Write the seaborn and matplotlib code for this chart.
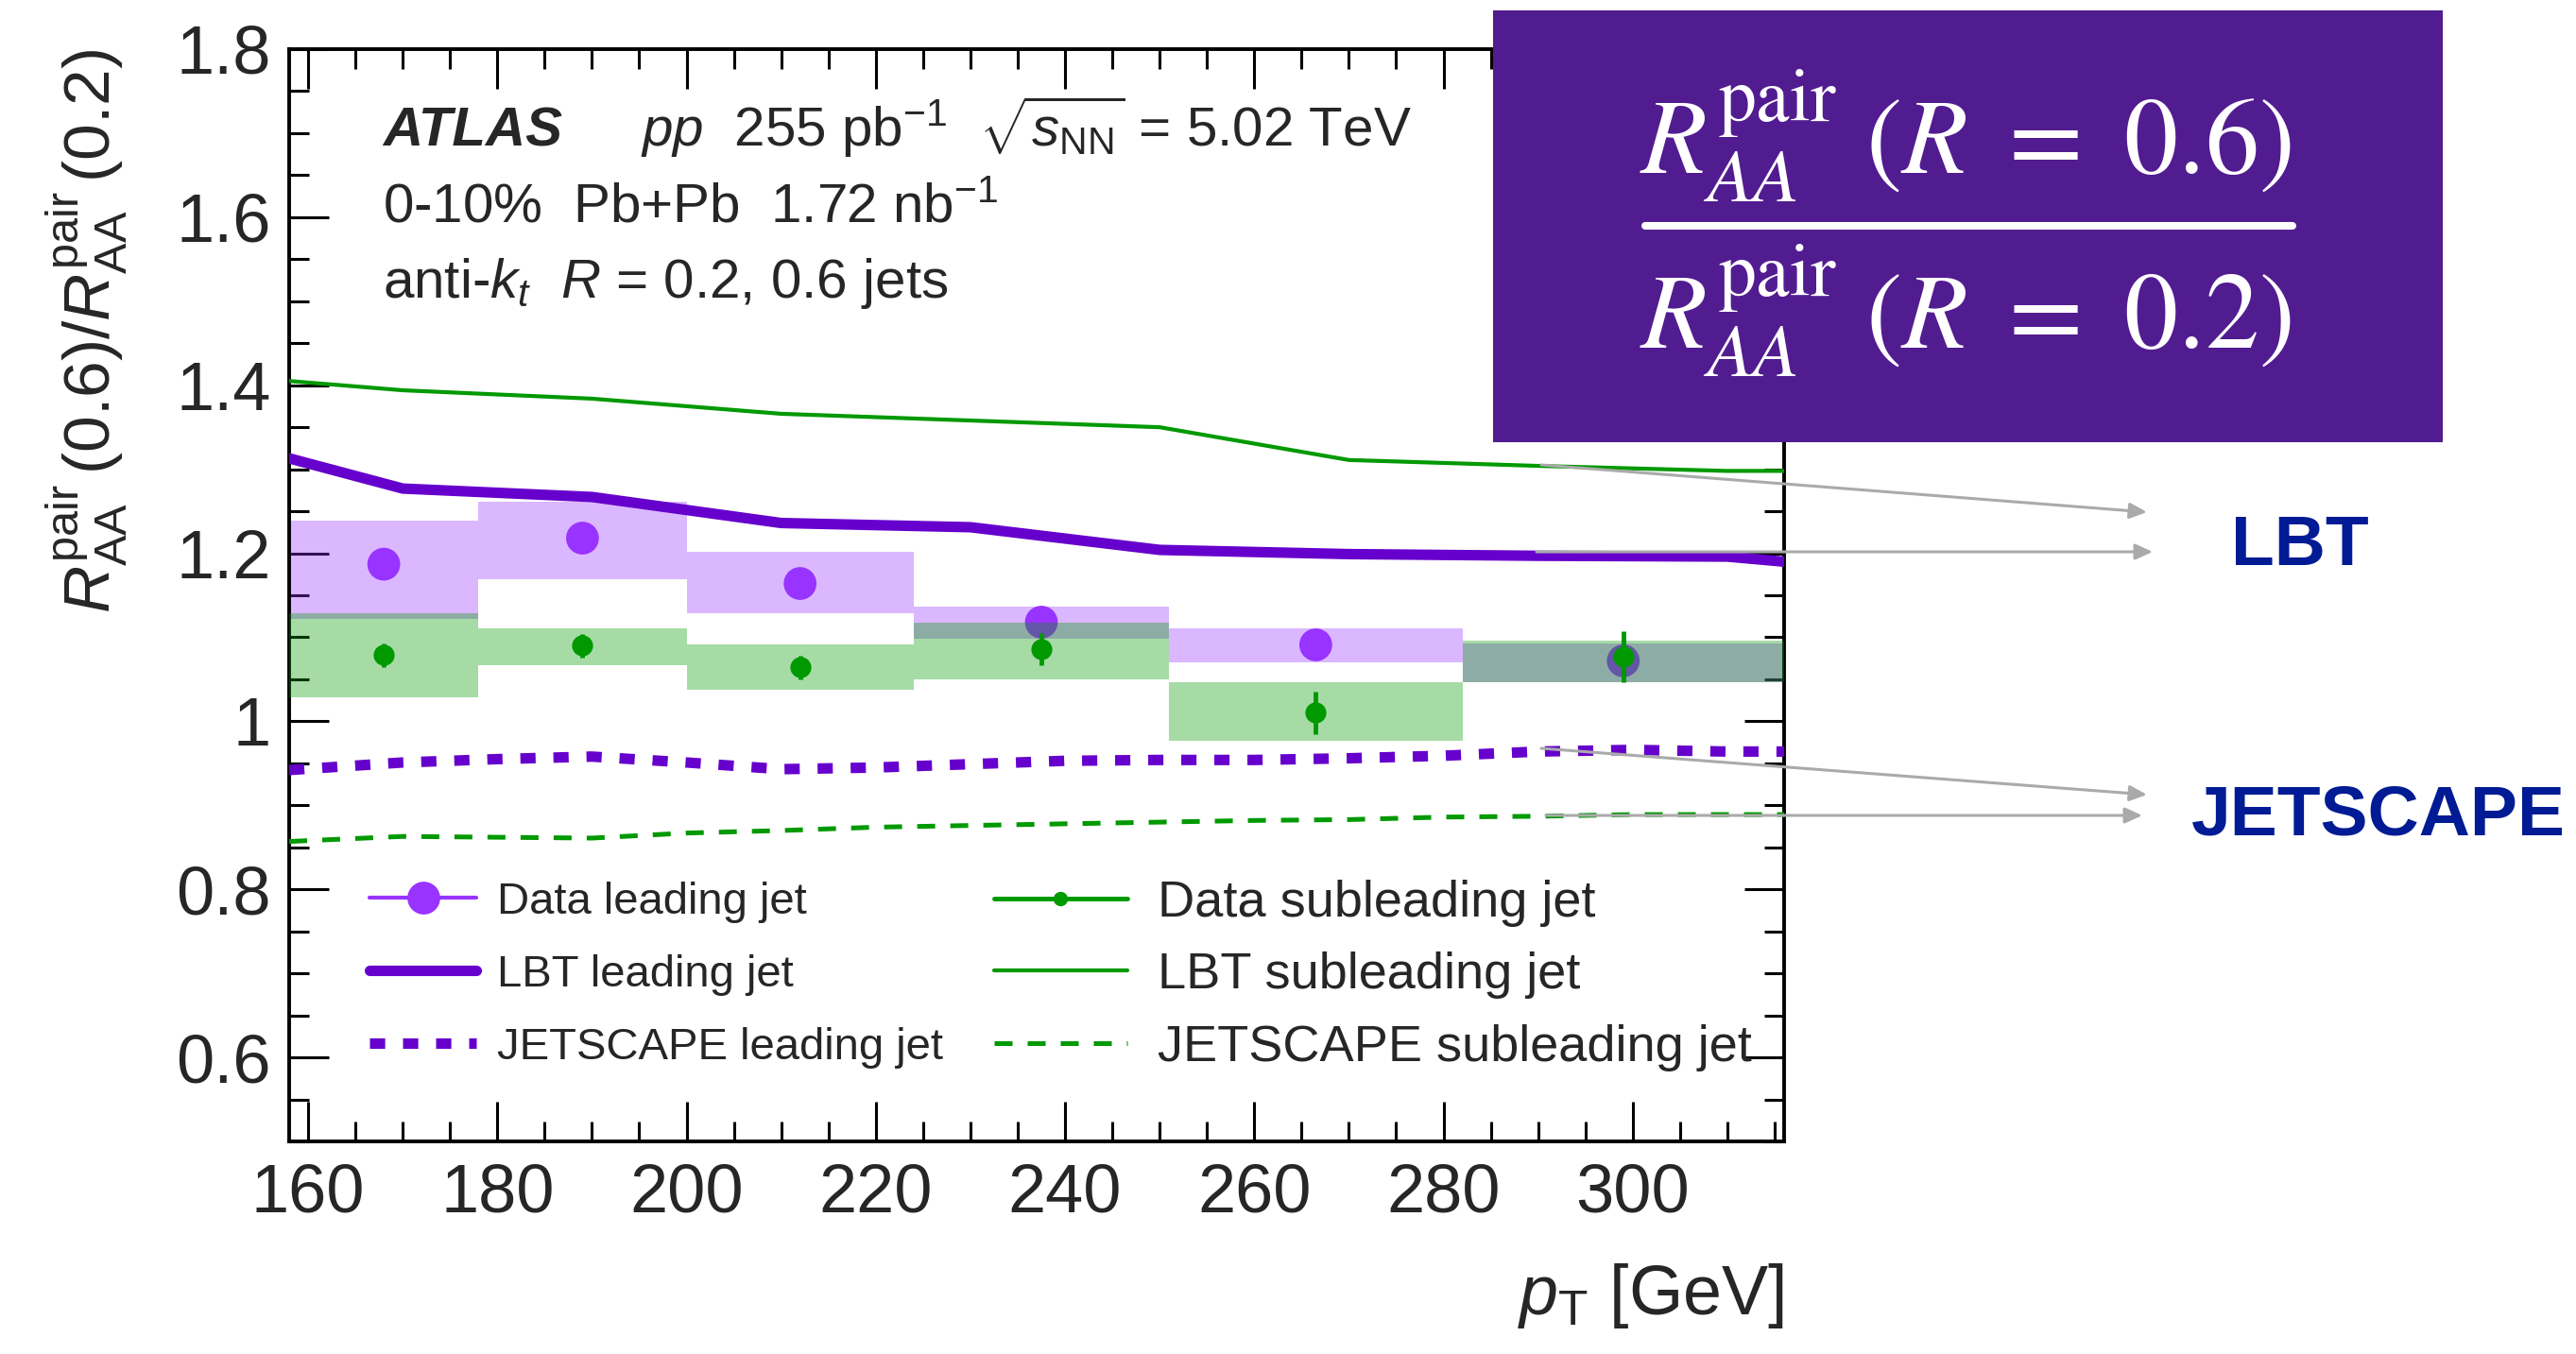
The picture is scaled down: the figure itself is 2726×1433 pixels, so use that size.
import numpy as np
import pandas as pd
import matplotlib
matplotlib.use("Agg")
import matplotlib.pyplot as plt
import seaborn as sns
from matplotlib.lines import Line2D
from matplotlib.patches import Rectangle, FancyArrowPatch
from matplotlib.ticker import MultipleLocator

# ---------------- data ----------------
bin_edges = [158, 178, 200, 224, 251, 282, 316]
bin_centers = [168, 189, 212, 237.5, 266.5, 299]

lead_val = [1.187, 1.218, 1.164, 1.118, 1.091, 1.072]
lead_sys_lo = [1.122, 1.169, 1.129, 1.098, 1.070, 1.046]
lead_sys_hi = [1.239, 1.261, 1.202, 1.136, 1.111, 1.093]

sub_val = [1.079, 1.090, 1.064, 1.086, 1.010, 1.077]
sub_stat = [0.014, 0.014, 0.014, 0.019, 0.025, 0.030]
sub_sys_lo = [1.028, 1.067, 1.038, 1.050, 0.977, 1.047]
sub_sys_hi = [1.129, 1.111, 1.091, 1.117, 1.046, 1.096]

lbt_pt = [158, 170, 190, 210, 230, 250, 270, 290, 310, 316]
lbt_lead = [1.313, 1.277, 1.267, 1.236, 1.231, 1.204, 1.199, 1.197, 1.196, 1.190]
lbt_sub = [1.405, 1.394, 1.384, 1.366, 1.358, 1.350, 1.311, 1.304, 1.298, 1.298]

js_pt = [158, 170, 180, 190, 200, 210, 220, 230, 240, 250, 260, 270, 280, 290, 300, 310, 316]
js_lead = [0.942, 0.951, 0.955, 0.958, 0.951, 0.943, 0.945, 0.949, 0.953, 0.954,
           0.954, 0.956, 0.959, 0.964, 0.966, 0.964, 0.964]
js_sub = [0.857, 0.863, 0.862, 0.861, 0.867, 0.870, 0.874, 0.876, 0.878, 0.880,
          0.882, 0.883, 0.886, 0.887, 0.889, 0.889, 0.889]

y_ticks = [0.6, 0.8, 1.0, 1.2, 1.4, 1.6, 1.8]
y_tick_labels = ["0.6", "0.8", "1", "1.2", "1.4", "1.6", "1.8"]
x_ticks = [160, 180, 200, 220, 240, 260, 280, 300]
x_tick_labels = ["160", "180", "200", "220", "240", "260", "280", "300"]

legend_left = ["Data leading jet", "LBT leading jet", "JETSCAPE leading jet"]
legend_right = ["Data subleading jet", "LBT subleading jet", "JETSCAPE subleading jet"]

# ---------------- style ----------------
sns.set_theme(style="ticks")
plt.rcParams["font.family"] = ["Liberation Sans", "DejaVu Sans"]
plt.rcParams["mathtext.fontset"] = "custom"
plt.rcParams["mathtext.rm"] = "Liberation Sans"
plt.rcParams["mathtext.it"] = "Liberation Sans:italic"
plt.rcParams["mathtext.bf"] = "Liberation Sans:bold"
plt.rcParams["mathtext.sf"] = "Liberation Sans"

PURPLE_DARK = "#6600CC"
PURPLE = "#9933FF"
GREEN = "#009900"
BOX = "#521C91"
LABEL_BLUE = "#001B94"
ARROW = "#AAAAAA"

W, H = 2726, 1433
fig = plt.figure(figsize=(W / 100, H / 100), dpi=100)
fig.patch.set_facecolor("white")
ax = fig.add_axes([306 / W, 1 - 1208 / H, 1582 / W, 1156 / H])

widths = np.diff(bin_edges)
centers_edges = [(a + b) / 2 for a, b in zip(bin_edges[:-1], bin_edges[1:])]

# leading jet systematic bands and markers
ax.bar(centers_edges, np.array(lead_sys_hi) - np.array(lead_sys_lo), bottom=lead_sys_lo,
       width=widths, color=PURPLE, alpha=0.35, linewidth=0, zorder=2)
sns.scatterplot(x=bin_centers, y=lead_val, s=25 ** 2, color=PURPLE, edgecolor="none",
                linewidth=0, ax=ax, zorder=3)

# subleading jet systematic bands and markers
ax.bar(centers_edges, np.array(sub_sys_hi) - np.array(sub_sys_lo), bottom=sub_sys_lo,
       width=widths, color=GREEN, alpha=0.35, linewidth=0, zorder=4)
ax.errorbar(bin_centers, sub_val, yerr=sub_stat, fmt="o", color=GREEN, ms=16,
            mec="none", elinewidth=3.5, capsize=0, zorder=5)

# theory curves
sns.lineplot(x=lbt_pt, y=lbt_sub, color=GREEN, linewidth=3.0, errorbar=None, sort=False,
             ax=ax, zorder=6)
sns.lineplot(x=lbt_pt, y=lbt_lead, color=PURPLE_DARK, linewidth=8.0, errorbar=None, sort=False,
             ax=ax, zorder=6)
sns.lineplot(x=js_pt, y=js_lead, color=PURPLE_DARK, linewidth=8.0, errorbar=None, sort=False,
             linestyle=(0, (1.45, 1.7)), ax=ax, zorder=6)
sns.lineplot(x=js_pt, y=js_sub, color=GREEN, linewidth=3.6, errorbar=None, sort=False,
             linestyle=(0, (3.8, 3.2)), ax=ax, zorder=6)

# axes
ax.set_xlim(158, 316)
ax.set_ylim(0.5, 1.8)
ax.set_xticks(x_ticks)
ax.set_xticklabels(x_tick_labels)
ax.set_yticks(y_ticks)
ax.set_yticklabels(y_tick_labels)
ax.xaxis.set_minor_locator(MultipleLocator(5))
ax.yaxis.set_minor_locator(MultipleLocator(0.05))
ax.tick_params(which="both", direction="in", top=True, right=True, width=2.2, color="black")
ax.tick_params(which="major", length=30, labelsize=52, pad=14)
ax.tick_params(which="minor", length=15)
ax.tick_params(axis="x", which="major", pad=16)
for sp in ax.spines.values():
    sp.set_linewidth(2.8)
    sp.set_color("black")

ax.set_ylabel(r"$R^{\mathrm{pair}}_{\mathrm{AA}}\,(0.6)/R^{\mathrm{pair}}_{\mathrm{AA}}\,(0.2)$",
              fontsize=50, loc="top")
ax.yaxis.set_label_coords(-0.107, 1.0)
ax.set_xlabel(r"$p_{\mathrm{T}}$ [GeV]", fontsize=53, loc="right")
ax.xaxis.set_label_coords(1.0, -0.11)

# annotation text
ax.text(0.0626, 0.911, "ATLAS", transform=ax.transAxes, fontsize=42, fontweight="bold",
        fontstyle="italic", va="baseline", ha="left")
ax.text(0.235, 0.911, r"$pp$  255 pb$^{-1}$  $\sqrt{s_{\mathrm{NN}}}$ = 5.02 TeV",
        transform=ax.transAxes, fontsize=42, va="baseline", ha="left")
ax.text(0.0626, 0.8417, r"0-10%  Pb+Pb  1.72 nb$^{-1}$", transform=ax.transAxes,
        fontsize=42, va="baseline", ha="left")
ax.text(0.0626, 0.7725, r"anti-$k_{t}$  $R$ = 0.2, 0.6 jets", transform=ax.transAxes,
        fontsize=42, va="baseline", ha="left")

# legends
left_handles = [
    Line2D([], [], color=PURPLE, lw=3, marker="o", ms=25, mec="none"),
    Line2D([], [], color=PURPLE_DARK, lw=8),
    Line2D([], [], color=PURPLE_DARK, lw=8, linestyle=(0, (1.45, 1.7))),
]
right_handles = [
    Line2D([], [], color=GREEN, lw=3.5, marker="o", ms=11, mec="none"),
    Line2D([], [], color=GREEN, lw=3),
    Line2D([], [], color=GREEN, lw=3.6, linestyle=(0, (3.8, 3.2))),
]
leg1 = ax.legend(left_handles, legend_left, loc="upper left", bbox_to_anchor=(0.0537, 0.238),
                 frameon=False, fontsize=34, borderpad=0, borderaxespad=0,
                 handlelength=2.4, handletextpad=0.45, labelspacing=0.70)
ax.add_artist(leg1)
leg2 = ax.legend(right_handles, legend_right, loc="upper left", bbox_to_anchor=(0.4716, 0.240),
                 frameon=False, fontsize=39, borderpad=0, borderaxespad=0,
                 handlelength=2.6, handletextpad=0.6, labelspacing=0.49)

# purple formula box
def fx(x):
    return x / W

def fy(y):
    return 1 - y / H

fig.add_artist(Rectangle((fx(1580), fy(468)), (2585 - 1580) / W, (468 - 11) / H,
                         transform=fig.transFigure, facecolor=BOX, edgecolor="none", zorder=10))
fig.text(fx(2080), fy(184), r"$R^{\mathrm{pair}}_{AA}\ (R\ =\ 0.6)$", color="white",
         fontsize=82, ha="center", va="baseline", math_fontfamily="stix", zorder=11)
fig.text(fx(2080), fy(369), r"$R^{\mathrm{pair}}_{AA}\ (R\ =\ 0.2)$", color="white",
         fontsize=82, ha="center", va="baseline", math_fontfamily="stix", zorder=11)
fig.add_artist(Line2D([fx(1741), fx(2426)], [fy(239), fy(239)], color="white", lw=5.8,
                      transform=fig.transFigure, zorder=11))

# arrows and model labels
arrows = [((1631, 492), (2272, 542)), ((1626, 584), (2278, 584)),
          ((1631, 792), (2272, 841)), ((1636, 863), (2267, 863))]
for (x0, y0), (x1, y1) in arrows:
    fig.add_artist(FancyArrowPatch((fx(x0), fy(y0)), (fx(x1), fy(y1)),
                                   transform=fig.transFigure,
                                   arrowstyle="-|>,head_length=0.55,head_width=0.25",
                                   mutation_scale=20, color=ARROW, lw=2.2,
                                   shrinkA=0, shrinkB=0, zorder=12))
fig.text(fx(2434), fy(578), "LBT", color=LABEL_BLUE, fontsize=54, fontweight="bold",
         ha="center", va="center")
fig.text(fx(2517), fy(864), "JETSCAPE", color=LABEL_BLUE, fontsize=54, fontweight="bold",
         ha="center", va="center")

fig.savefig("out.png", dpi=100)
